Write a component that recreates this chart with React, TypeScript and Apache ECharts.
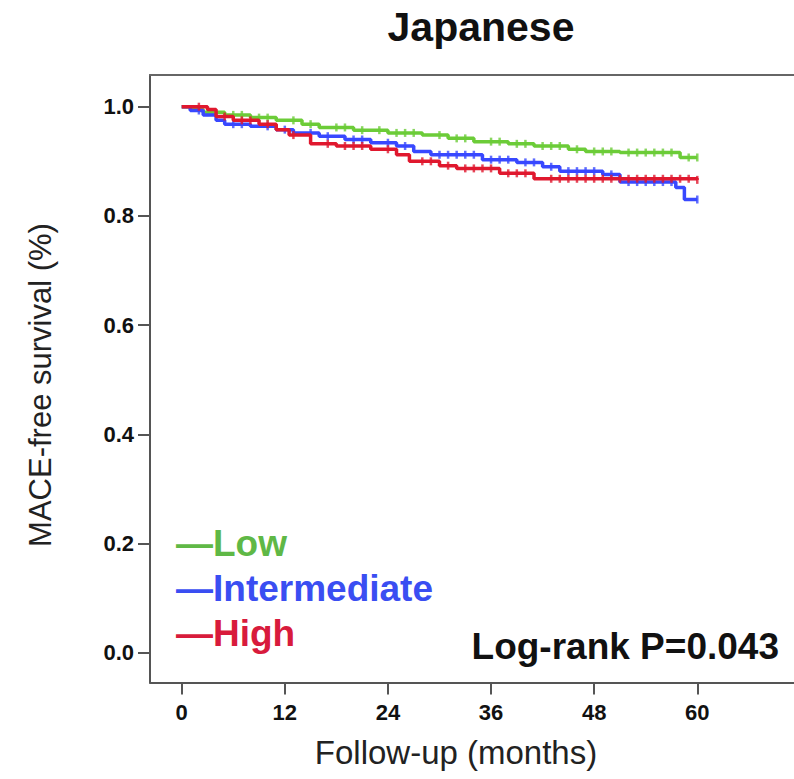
import React, { useEffect, useRef } from "react";
import * as echarts from "echarts";

// Kaplan-Meier step data: [month, survival after drop]
const lowTimes = [0, 1, 2.5, 5, 8, 11, 14, 16, 20, 24, 28, 31, 34, 38, 41, 45, 47, 51, 58, 60];
const lowValues = [1.0, 0.995, 0.99, 0.985, 0.98, 0.975, 0.968, 0.962, 0.957, 0.952, 0.948, 0.942, 0.936, 0.932, 0.928, 0.922, 0.918, 0.916, 0.907, 0.907];

const intTimes = [0, 1, 2.5, 4, 5, 8, 11, 13, 16, 19, 22, 25, 27, 29, 35, 39, 42, 44, 49, 51, 57.5, 58.5, 60];
const intValues = [1.0, 0.993, 0.985, 0.975, 0.968, 0.964, 0.958, 0.952, 0.946, 0.94, 0.934, 0.928, 0.918, 0.912, 0.903, 0.898, 0.89, 0.882, 0.876, 0.862, 0.852, 0.83, 0.83];

const highTimes = [0, 3, 4, 6, 9, 11, 12.5, 15, 18, 22, 25, 26.5, 30, 32, 37, 41, 60];
const highValues = [1.0, 0.995, 0.982, 0.975, 0.968, 0.958, 0.948, 0.932, 0.928, 0.922, 0.912, 0.9, 0.892, 0.887, 0.878, 0.868, 0.866];

// censoring marks (months)
const lowCensor = [3, 6, 7, 9, 10, 13, 15, 18, 19, 21, 23, 25, 26, 27, 30, 32, 33, 36, 37, 39, 40, 42, 43, 44, 46, 48, 49, 50, 52, 53, 54, 55, 56, 57, 59, 60];
const intCensor = [2, 6, 7, 10, 12, 15, 17, 20, 21, 24, 26, 30, 31, 32, 33, 34, 36, 37, 38, 40, 41, 43, 45, 46, 47, 48, 50, 52, 53, 54, 55, 56, 57, 60];
const highCensor = [2, 5, 7, 8, 10, 13, 17, 19, 20, 21, 24, 28, 29, 31, 33, 34, 35, 36, 38, 39, 40, 43, 44, 45, 46, 47, 48, 49, 50, 51, 52, 53, 54, 55, 56, 57, 58, 59, 60];

const xTicks = [0, 12, 24, 36, 48, 60];
const yTicks = [0, 0.2, 0.4, 0.6, 0.8, 1.0];

const groupNames = ["Low", "Intermediate", "High"];
const lineColors = ["#6ccc38", "#3848ff", "#e0182e"];
const textColors = ["#5fb846", "#3a4ef2", "#d81b3c"];

const FONT = "'Liberation Sans', Arial, Helvetica, sans-serif";

function stepAt(times: number[], values: number[], t: number): number {
  let v = values[0];
  for (let i = 0; i < times.length; i++) {
    if (times[i] <= t) v = values[i];
  }
  return v;
}

export default function App() {
  const ref = useRef<HTMLDivElement>(null);

  useEffect(() => {
    if (!ref.current) return;
    const chart = echarts.init(ref.current, undefined, { renderer: "svg" });

    const groups = [
      { t: lowTimes, v: lowValues, c: lowCensor },
      { t: intTimes, v: intValues, c: intCensor },
      { t: highTimes, v: highValues, c: highCensor },
    ];

    const series: any[] = [];
    groups.forEach((g, i) => {
      series.push({
        type: "line",
        name: groupNames[i],
        step: "end",
        showSymbol: false,
        symbol: "none",
        data: g.t.map((t, k) => [t, g.v[k]]),
        lineStyle: { color: lineColors[i], width: 3.5 },
        z: 3 + i,
      });
      series.push({
        type: "scatter",
        name: groupNames[i] + "-censor",
        symbol: "rect",
        symbolSize: [2.5, 8],
        itemStyle: { color: lineColors[i] },
        data: g.c.map((t) => [t, stepAt(g.t, g.v, t)]),
        z: 3 + i,
      });
    });

    const xPx = 8.593; // px per month
    const gridLeft = 150;
    const gridWidth = 644;
    const xMin = -(181.7 - gridLeft) / xPx;
    const xMax = xMin + gridWidth / xPx;
    const yPx = 546;
    const yMin = -(682.5 - 652.7) / yPx;
    const yMax = 1 + (106.7 - 75) / yPx;

    const axisColor = "#555";
    const tickLabel = {
      color: "#111",
      fontFamily: FONT,
      fontWeight: "bold",
      fontSize: 22,
    };

    chart.setOption({
      animation: false,
      grid: {
        left: gridLeft,
        top: 75,
        right: 0,
        height: 607.5,
        show: false,
      },
      xAxis: [
        {
          type: "value",
          min: xMin,
          max: xMax,
          axisLine: { show: true, onZero: false, lineStyle: { color: axisColor, width: 2 } },
          axisTick: {
            show: true,
            customValues: xTicks,
            length: 12,
            lineStyle: { color: axisColor, width: 2 },
          },
          axisLabel: {
            ...tickLabel,
            customValues: xTicks,
            margin: 19,
            formatter: (v: number) => String(Math.round(v)),
          },
          splitLine: { show: false },
        },
        {
          type: "value",
          position: "top",
          min: xMin,
          max: xMax,
          axisLine: { show: true, onZero: false, lineStyle: { color: "#666", width: 2 } },
          axisTick: { show: false },
          axisLabel: { show: false },
          splitLine: { show: false },
        },
      ],
      yAxis: {
        type: "value",
        min: yMin,
        max: yMax,
        axisLine: { show: true, onZero: false, lineStyle: { color: axisColor, width: 2 } },
        axisTick: {
          show: true,
          customValues: yTicks,
          length: 12,
          lineStyle: { color: axisColor, width: 2 },
        },
        axisLabel: {
          ...tickLabel,
          customValues: yTicks,
          margin: 16,
          formatter: (v: number) => v.toFixed(1),
        },
        splitLine: { show: false },
      },
      graphic: [
        {
          type: "text",
          x: 481,
          y: 27,
          style: {
            text: "Japanese",
            font: `bold 41px ${FONT}`,
            fill: "#111",
            textAlign: "center",
            textVerticalAlign: "middle",
          },
        },
        {
          type: "text",
          x: 40,
          y: 385,
          rotation: Math.PI / 2,
          style: {
            text: "MACE-free survival (%)",
            font: `31px ${FONT}`,
            fill: "#222",
            textAlign: "center",
            textVerticalAlign: "middle",
          },
        },
        {
          type: "text",
          x: 456,
          y: 752,
          style: {
            text: "Follow-up (months)",
            font: `33px ${FONT}`,
            fill: "#222",
            textAlign: "center",
            textVerticalAlign: "middle",
          },
        },
        ...groupNames.map((n, i) => ({
          type: "text",
          x: 176,
          y: 543 + i * 45,
          z: 10,
          style: {
            text: "\u2014" + n,
            font: `bold 37px ${FONT}`,
            fill: textColors[i],
            textAlign: "left",
            textVerticalAlign: "middle",
          },
        })),
        {
          type: "text",
          x: 779,
          y: 646,
          z: 10,
          style: {
            text: "Log-rank P=0.043",
            font: `bold 37px ${FONT}`,
            fill: "#111",
            textAlign: "right",
            textVerticalAlign: "middle",
          },
        },
      ],
      series,
    });

    return () => chart.dispose();
  }, []);

  return (
    <div
      ref={ref}
      style={{ position: "absolute", left: 0, top: 0, width: 794, height: 779, background: "#fff" }}
    />
  );
}
